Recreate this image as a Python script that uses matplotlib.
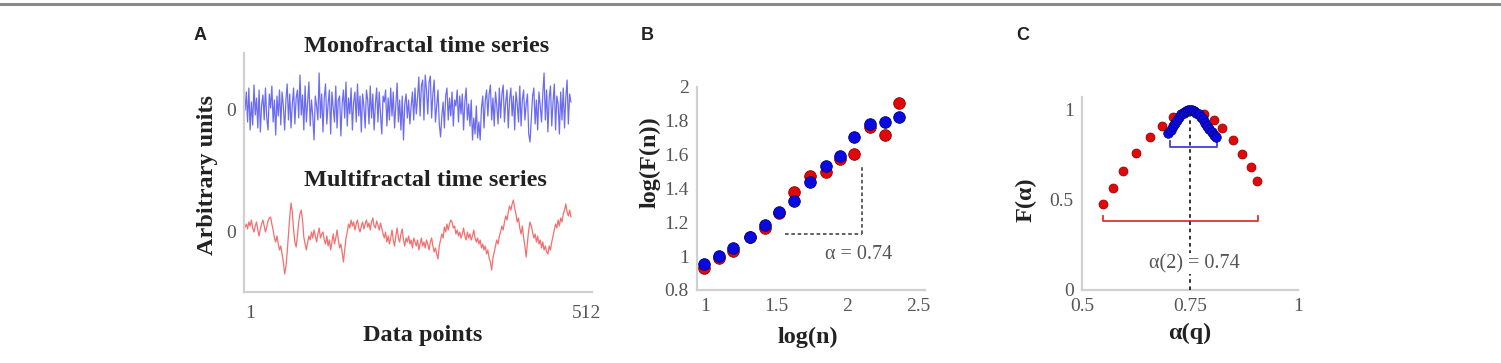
import numpy as np
import matplotlib
matplotlib.use("Agg")
import matplotlib.pyplot as plt
from matplotlib.lines import Line2D

# ---------------- data ----------------
# Panel A: time series (sampled every 2nd data point, arbitrary units)
mono_series = [
    0, 18, -12, 22, -20, 8, -15, 25, -5, 12, -18, 20, -22, 5, 15, -10,
    22, -8, -20, 16, 2, 24, -12, 10, -25, 14, -6, 20, -15, 18, 4, -20,
    10, 26, -10, 16, -18, 6, 22, -14, 12, 20, -8, 35, -5, 15, -20, 24,
    -12, 8, 28, -16, 10, -6, -30, 14, 4, -10, 37, -8, 16, -22, 12, 26,
    -14, 6, 20, -24, 18, 2, -12, 24, -18, 10, 14, -26, 6, 20, -8, 28,
    -16, 12, -4, 22, -20, 8, 18, -12, 26, -6, 14, -22, 16, 4, -18, 20,
    10, -14, 24, -8, 16, -20, 6, 22, -12, 18, -4, -24, 14, 8, 20, -16,
    12, -10, 22, -6, 18, -18, 4, 27, -12, 10, -20, 14, -30, 6, 16, -8,
    10, -14, 4, 18, -10, 22, -4, 12, 33, -6, 24, 30, -10, 35, 20, -4,
    28, 34, -8, 16, 30, -12, 4, 20, -14, -27, -6, 8, -18, 14, 22, -10,
    12, -6, 18, -16, 10, 4, 20, -12, 14, -4, 16, -20, 8, 22, -10, 6,
    -16, 10, -30, -8, -24, 4, -28, -12, -30, 2, 14, -18, 10, 20, -6, 16,
    25, -10, 12, -16, 18, 4, -14, 22, -8, 16, 25, -12, 8, 20, -18, 10,
    22, -6, 14, -20, 18, 6, -12, 24, -16, 10, 20, -10, 6, 16, -24, -32,
    -8, 14, 22, -14, 10, -20, 18, 4, -12, 16, 37, -10, 20, -22, 12, 24,
    -16, 8, 26, -20, 14, 6, -24, 18, -10, 22, -18, 12, 30, -14, 16, 8,
]
multi_series = [
    5, 8, 3, 10, 6, 12, 4, 0, 6, 10, 2, -4, 3, 8, 12, 6,
    0, 5, 11, 14, 15, 8, 2, -6, -10, -4, -12, -18, -14, -22, -30, -42,
    -35, -20, -2, 15, 29, 20, 2, -10, -15, -4, 10, 18, 22, 12, -5, -12,
    -18, -10, -4, -8, 0, -6, 2, -4, -10, -2, 4, -6, -2, 0, -8, -12,
    -4, -14, -8, -18, -10, -2, -12, -6, 2, -8, -16, -12, -20, -30, -18, -6,
    0, 8, 4, 12, 6, 10, 2, 8, 12, 4, 0, 6, 10, 3, 8, 12,
    5, 9, 2, 10, 14, 6, 4, 11, 7, 2, 9, 4, -2, -6, 0, -10,
    -4, -12, -6, 2, -8, -14, -4, 4, -6, -10, -2, 3, -8, -14, -6, -10,
    -4, -12, -8, -16, -6, -10, -14, -8, -18, -12, -6, -14, -10, -16, -8, -12,
    -18, -10, -6, -14, -20, -16, -22, -27, -14, -8, -2, -6, 5, 0, 8, 2,
    8, 12, 10, 4, 6, -2, 2, -4, 0, -6, -2, 4, -4, -8, 0, -6,
    -2, -8, -4, 2, -6, -10, -6, -12, -8, -16, -12, -18, -14, -22, -18, -26,
    -30, -38, -26, -20, -14, -8, -12, -4, 0, 6, 2, 10, 16, 12, 20, 26,
    22, 28, 32, 24, 18, 10, 14, 4, -2, 6, -6, -14, -25, -10, 2, 10,
    6, 0, -6, -2, -10, -4, -12, -8, -16, -10, -18, -14, -20, -22, -14, -18,
    -10, -4, 2, 8, 4, 12, 6, 14, 10, 18, 22, 28, 20, 16, 22, 15,
]
mono_offset = 122  # vertical offset of the monofractal series
a_xticks = [1, 512]
a_xticklabels = ["1", "512"]

# Panel B: log(F(n)) vs log(n)
logn = [0.99, 1.10, 1.20, 1.32, 1.42, 1.52, 1.63, 1.74, 1.85, 1.95, 2.05, 2.16, 2.27, 2.37]
logF_multi = [0.928, 0.991, 1.032, 1.111, 1.165, 1.257, 1.377, 1.476, 1.499, 1.572, 1.604, 1.762, 1.716, 1.903]
logF_mono = [0.954, 1.001, 1.046, 1.115, 1.184, 1.259, 1.328, 1.440, 1.535, 1.592, 1.704, 1.781, 1.795, 1.824]
b_xticks = [1, 1.5, 2, 2.5]
b_yticks = [0.8, 1, 1.2, 1.4, 1.6, 1.8, 2]
b_xticklabels = ["1", "1.5", "2", "2.5"]
b_yticklabels = ["0.8", "1", "1.2", "1.4", "1.6", "1.8", "2"]
slope_h = ([1.563, 2.104], [1.129, 1.129])
slope_v = ([2.104, 2.104], [1.129, 1.539])

# Panel C: multifractal spectrum
alpha_multi = [0.549, 0.571, 0.596, 0.625, 0.657, 0.686, 0.711, 0.735, 0.760,
               0.783, 0.806, 0.825, 0.849, 0.870, 0.891, 0.904]
f_multi = [0.476, 0.565, 0.663, 0.759, 0.848, 0.913, 0.959, 0.990, 0.995,
           0.978, 0.944, 0.898, 0.833, 0.756, 0.685, 0.607]
alpha_mono = [0.700, 0.705, 0.710, 0.715, 0.720, 0.725, 0.730, 0.735, 0.740, 0.745,
              0.750, 0.755, 0.760, 0.765, 0.770, 0.775, 0.780, 0.785, 0.790, 0.795,
              0.800, 0.805, 0.810]
f_mono = [0.870, 0.890, 0.910, 0.930, 0.945, 0.960, 0.975, 0.985, 0.993, 0.998,
          1.000, 0.998, 0.993, 0.985, 0.975, 0.962, 0.948, 0.930, 0.912, 0.895,
          0.878, 0.862, 0.848]
c_xticks = [0.5, 0.75, 1]
c_yticks = [0, 0.5, 1]
c_xticklabels = ["0.5", "0.75", "1"]
c_yticklabels = ["0", "0.5", "1"]
bracket_multi = (0.548, 0.907, 0.383, 0.41)   # x0, x1, y, tick top
bracket_mono = (0.704, 0.812, 0.794, 0.825)
alpha2 = 0.75

# ---------------- style ----------------
W, H = 1501, 363
fig = plt.figure(figsize=(W / 100, H / 100), dpi=100)

SERIF = ["Liberation Serif", "DejaVu Serif"]
SANS = ["Liberation Sans", "DejaVu Sans"]
TICKC = "#555555"
SPINEC = "#d0d0d0"
LABELC = "#222222"
TICKFS = 14
LABELFS = 17.5
TITLEFS = 17.5


def ax_px(left, top, right, bottom):
    return fig.add_axes([left / W, 1 - bottom / H, (right - left) / W, (bottom - top) / H])


def fx(x):
    return x / W


def fy(y):
    return 1 - y / H


def style_axes(ax):
    for s in ["top", "right"]:
        ax.spines[s].set_visible(False)
    for s in ["left", "bottom"]:
        ax.spines[s].set_color(SPINEC)
        ax.spines[s].set_linewidth(1.6)
    ax.tick_params(length=0, pad=6, labelsize=TICKFS, labelcolor=TICKC)
    for lab in ax.get_xticklabels() + ax.get_yticklabels():
        lab.set_family(SERIF)


# top rule
fig.add_artist(Line2D([0, 1], [fy(3.5), fy(3.5)], color="#8a8a8a", lw=2.2))

# ---------------- Panel A ----------------
axA = ax_px(244, 53, 592, 292)
xs = np.arange(1, 513, 2)
axA.plot(xs, np.array(mono_series) + mono_offset, color="#5c5cf0", lw=0.9, alpha=0.9)
axA.plot(xs, multi_series, color="#f06060", lw=0.9, alpha=0.9)
axA.set_xlim(-0.6, 544)
axA.set_ylim(-60, 179)
axA.set_xticks(a_xticks)
axA.set_xticklabels(a_xticklabels, ha="left")
axA.set_yticks([0, mono_offset])
axA.set_yticklabels(["0", "0"])
style_axes(axA)
axA.tick_params(axis="x", pad=9)

fig.text(fx(427), fy(47), "Monofractal time series", ha="center", va="center",
         family=SERIF, weight="bold", fontsize=TITLEFS, color=LABELC)
fig.text(fx(425), fy(180), "Multifractal time series", ha="center", va="center",
         family=SERIF, weight="bold", fontsize=TITLEFS, color=LABELC)
fig.text(fx(207), fy(175), "Arbitrary units", ha="center", va="center", rotation=90,
         family=SERIF, weight="bold", fontsize=LABELFS, color=LABELC)
fig.text(fx(423), fy(335), "Data points", ha="center", va="center",
         family=SERIF, weight="bold", fontsize=LABELFS, color=LABELC)
fig.text(fx(200), fy(35), "A", ha="center", va="center", family=SANS,
         weight="bold", fontsize=13, color="#222222")

# ---------------- Panel B ----------------
axB = ax_px(697, 87, 925, 290)
axB.scatter(logn, logF_multi, s=70, color="#e00808", edgecolor="#8a0000", linewidth=0.6, zorder=3)
axB.scatter(logn, logF_mono, s=70, color="#0a0ae0", edgecolor="#00007a", linewidth=0.6, zorder=4)
axB.plot(*slope_h, color="#555555", lw=1.3, ls=(0, (2, 1.5)))
axB.plot(*slope_v, color="#555555", lw=1.3, ls=(0, (2, 1.5)))
axB.text(2.085, 1.007, "α = 0.74", ha="center", va="center", family=SERIF,
         fontsize=14.5, color="#555555")
axB.set_xlim(0.944, 2.55)
axB.set_ylim(0.8, 2.0)
axB.set_xticks(b_xticks)
axB.set_xticklabels(b_xticklabels)
axB.set_yticks(b_yticks)
axB.set_yticklabels(b_yticklabels)
style_axes(axB)

fig.text(fx(650), fy(162), "log(F(n))", ha="center", va="center", rotation=90,
         family=SERIF, weight="bold", fontsize=LABELFS, color=LABELC)
fig.text(fx(808), fy(337), "log(n)", ha="center", va="center",
         family=SERIF, weight="bold", fontsize=LABELFS, color=LABELC)
fig.text(fx(647), fy(35), "B", ha="center", va="center", family=SANS,
         weight="bold", fontsize=13, color="#222222")

# ---------------- Panel C ----------------
axC = ax_px(1082, 97, 1298, 290)
axC.plot([alpha2, alpha2], [0, 1.0], color="#222222", lw=1.3, ls=(0, (2, 2)), zorder=5)
axC.scatter(alpha_multi, f_multi, s=42, color="#e00808", edgecolor="#8a0000", linewidth=0.5, zorder=3)
axC.scatter(alpha_mono, f_mono, s=48, color="#0a0ae0", edgecolor="#00007a", linewidth=0.5, zorder=4)
for (x0, x1, yb, yt), col in [(bracket_multi, "#e03030"), (bracket_mono, "#4040e0")]:
    axC.plot([x0, x0, x1, x1], [yt, yb, yb, yt], color=col, lw=1.3)
axC.text(0.759, 0.147, "α(2) = 0.74", ha="center", va="center", family=SERIF,
         fontsize=14.5, color="#555555", zorder=6,
         bbox=dict(facecolor="white", edgecolor="none", pad=0.5))
axC.set_xlim(0.5, 1.0)
axC.set_ylim(0, 1.072)
axC.set_xticks(c_xticks)
axC.set_xticklabels(c_xticklabels)
axC.set_yticks(c_yticks)
axC.set_yticklabels(c_yticklabels)
style_axes(axC)

fig.text(fx(1026), fy(200), "F(α)", ha="center", va="center", rotation=90,
         family=SERIF, weight="bold", fontsize=LABELFS, color=LABELC)
fig.text(fx(1190), fy(333), "α(q)", ha="center", va="center",
         family=SERIF, weight="bold", fontsize=LABELFS, color=LABELC)
fig.text(fx(1023), fy(35), "C", ha="center", va="center", family=SANS,
         weight="bold", fontsize=13, color="#222222")

fig.savefig("out.png", dpi=100)
